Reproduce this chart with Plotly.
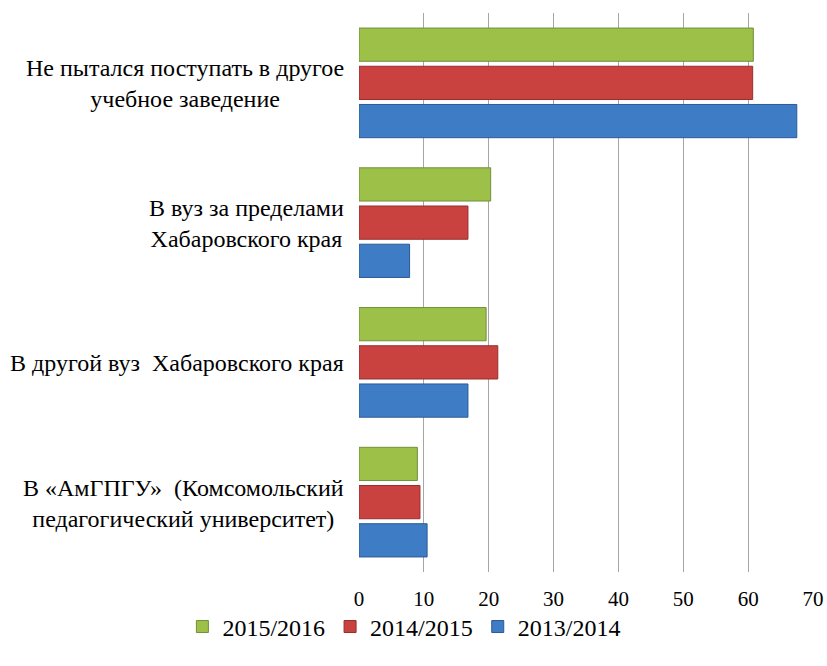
import plotly.graph_objects as go

categories = [
    "В «АмГПГУ»  (Комсомольский<br>педагогический университет)",
    "В другой вуз  Хабаровского края",
    "В вуз за пределами<br>Хабаровского края",
    "Не пытался поступать в другое<br>учебное заведение",
]
cat_keys = ["c4", "c3", "c2", "c1"]

series_names = ["2013/2014", "2014/2015", "2015/2016"]
vals_2013 = [10.5, 16.8, 7.8, 67.5]
vals_2014 = [9.4, 21.4, 16.8, 60.7]
vals_2015 = [9.0, 19.6, 20.3, 60.8]
x_ticks = [0, 10, 20, 30, 40, 50, 60, 70]

colors = {"2013/2014": "#3f7cc6", "2014/2015": "#c94240", "2015/2016": "#9cc048"}
edges = {"2013/2014": "#2c5a94", "2014/2015": "#962f2d", "2015/2016": "#71903a"}

FONT = "Liberation Serif, Times New Roman, serif"

fig = go.Figure()
for name, vals in zip(series_names, [vals_2013, vals_2014, vals_2015]):
    fig.add_trace(go.Bar(
        y=cat_keys, x=vals, name=name, orientation="h",
        marker=dict(color=colors[name], line=dict(color=edges[name], width=1)),
    ))

for key, label in zip(cat_keys, categories):
    fig.add_annotation(
        x=0, xref="paper", y=key, yref="y", xanchor="right", yanchor="middle",
        xshift=-13, yshift=-1, text=label, showarrow=False, align="center",
        font=dict(family=FONT, size=24, color="black"),
    )

fig.update_layout(
    width=827, height=666,
    margin=dict(l=359, r=14, t=13, b=94, autoexpand=False),
    paper_bgcolor="white", plot_bgcolor="white",
    barmode="group", bargap=0.18, bargroupgap=0.13,
    font=dict(family=FONT, size=21, color="black"),
    showlegend=True,
    legend=dict(orientation="h", x=0.1, xanchor="center", y=-0.058, yanchor="top",
                traceorder="reversed", font=dict(family=FONT, size=24, color="black"),
                itemwidth=30, bgcolor="rgba(0,0,0,0)"),
)
fig.update_xaxes(range=[0, 70], tickvals=x_ticks, showgrid=True, gridcolor="#a6a6a6",
                 gridwidth=1, zeroline=False, showline=False, ticks="",
                 ticklabelstandoff=12, tickfont=dict(family=FONT, size=21, color="black"))
fig.update_yaxes(showticklabels=False, showgrid=False, zeroline=False, showline=False,
                 categoryorder="array", categoryarray=cat_keys)

fig.write_html("out.html", config={"displayModeBar": False},
               post_script="document.body.style.margin='0';")
